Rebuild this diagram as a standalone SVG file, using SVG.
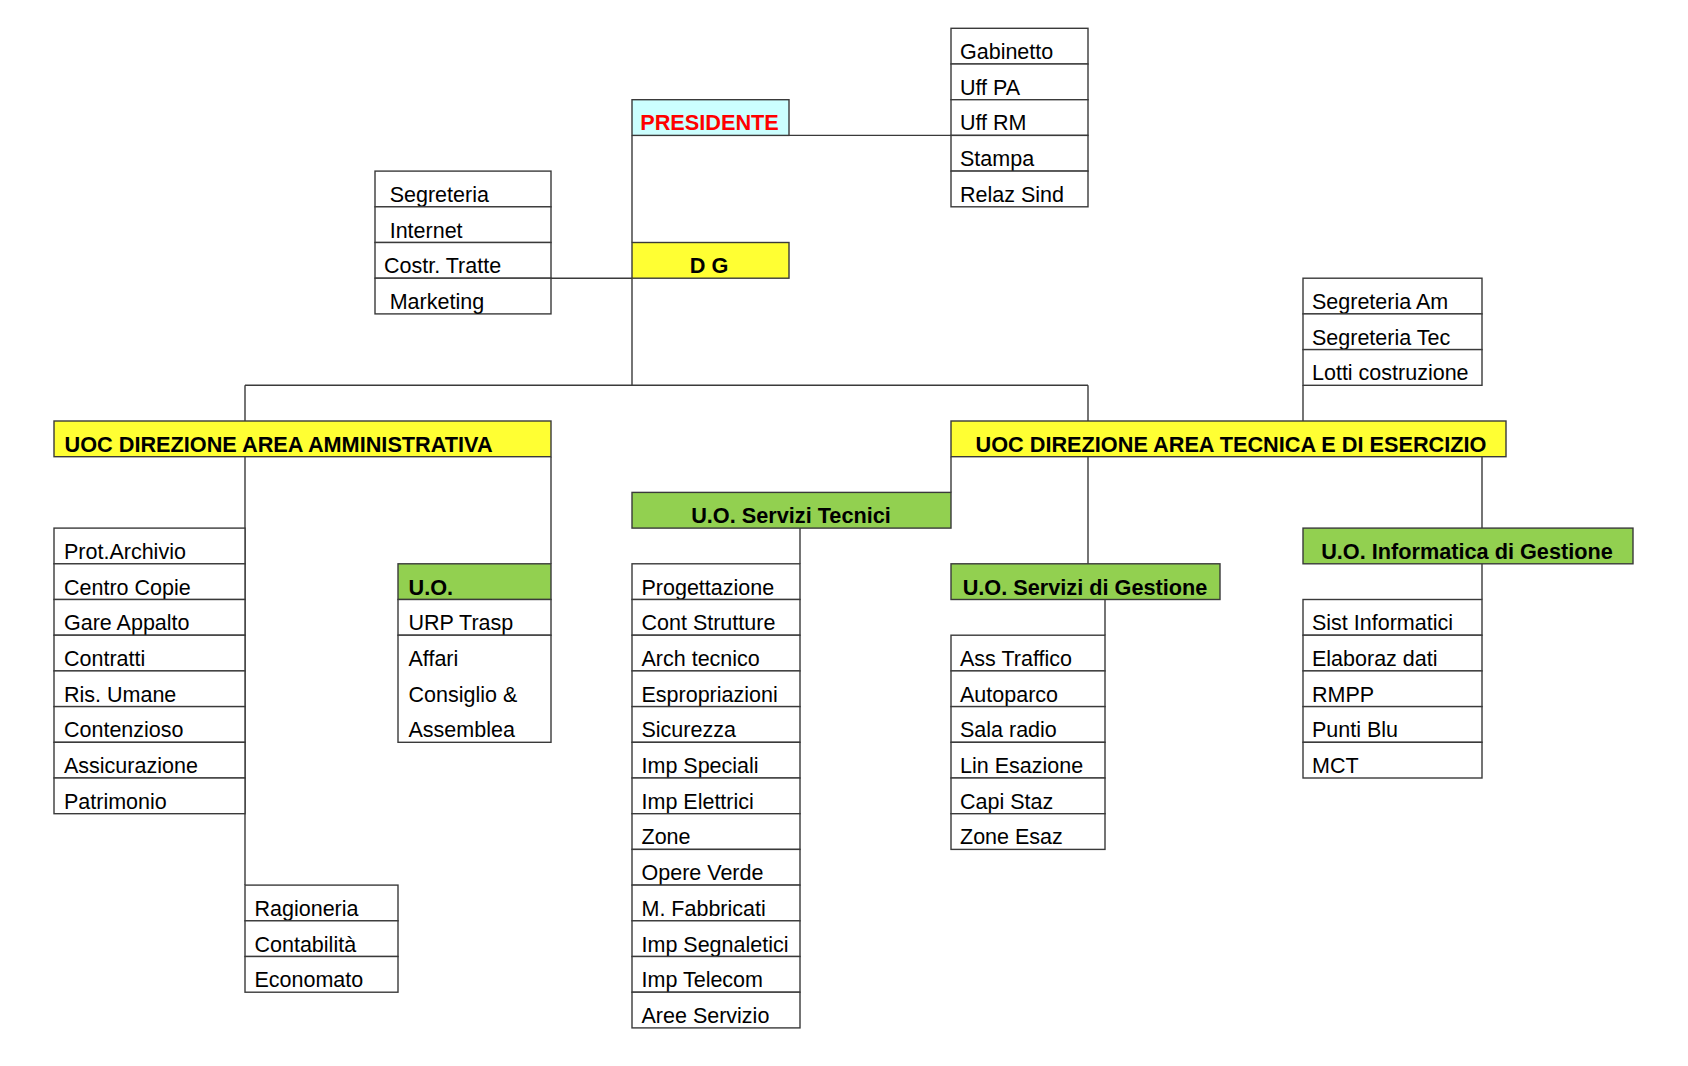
<svg xmlns="http://www.w3.org/2000/svg" width="1688" height="1066" viewBox="0 0 1688 1066">
<style>
rect{stroke:#3a3a3a;stroke-width:1.4}
.c{fill:#ffffff}
.y{fill:#ffff33}
.g{fill:#92d050}
.b{fill:#ccffff}
text{font-family:"Liberation Sans",Arial,sans-serif;font-size:21.5px;fill:#000}
.h{font-weight:bold;font-size:21.7px}
.m{text-anchor:middle}
.r{fill:#ff0000}
#connectors path{fill:none;stroke:#3a3a3a;stroke-width:1.4}
</style>
<rect x="0" y="0" width="1688" height="1066" fill="#ffffff" style="stroke:none"/>
<g id="connectors">
<path d="M789 135.4H951"/>
<path d="M632 135.4V242.5"/>
<path d="M632 278.2V385.3"/>
<path d="M551 278.2H632"/>
<path d="M245 385.3H1088"/>
<path d="M245 385.3V421"/>
<path d="M1088 385.3V421"/>
<path d="M1303 385.3V421"/>
<path d="M245 456.7V885.1"/>
<path d="M551 456.7V563.8"/>
<path d="M951 456.7V492.4"/>
<path d="M800 528.1V563.8"/>
<path d="M1088 456.7V563.8"/>
<path d="M1105 599.5V635.2"/>
<path d="M1482 456.7V528.1"/>
<path d="M1482 563.8V599.5"/>
</g>
<g id="presidente"><rect class="b" x="632" y="99.7" width="157" height="35.7"/><text class="h m r" x="709.5" y="130.4">PRESIDENTE</text></g>
<g id="dg"><rect class="y" x="632" y="242.5" width="157" height="35.7"/><text class="h m" x="709" y="273.2">D G</text></g>
<g id="gabinetto-stack">
<rect class="c" x="951" y="28.3" width="137" height="35.7"/><text x="960" y="59">Gabinetto</text>
<rect class="c" x="951" y="64" width="137" height="35.7"/><text x="960" y="94.7">Uff PA</text>
<rect class="c" x="951" y="99.7" width="137" height="35.7"/><text x="960" y="130.4">Uff RM</text>
<rect class="c" x="951" y="135.4" width="137" height="35.7"/><text x="960" y="166.1">Stampa</text>
<rect class="c" x="951" y="171.1" width="137" height="35.7"/><text x="960" y="201.8">Relaz Sind</text>
</g>
<g id="segreteria-stack">
<rect class="c" x="375" y="171.1" width="176" height="35.7"/><text x="389.7" y="201.8">Segreteria</text>
<rect class="c" x="375" y="206.8" width="176" height="35.7"/><text x="389.7" y="237.5">Internet</text>
<rect class="c" x="375" y="242.5" width="176" height="35.7"/><text x="384" y="273.2">Costr. Tratte</text>
<rect class="c" x="375" y="278.2" width="176" height="35.7"/><text x="389.7" y="308.9">Marketing</text>
</g>
<g id="uoc-amministrativa"><rect class="y" x="54" y="421" width="497" height="35.7"/><text class="h" x="64.5" y="451.7">UOC DIREZIONE AREA AMMINISTRATIVA</text></g>
<g id="uoc-tecnica"><rect class="y" x="951" y="421" width="555" height="35.7"/><text class="h m" x="1231" y="451.7">UOC DIREZIONE AREA TECNICA E DI ESERCIZIO</text></g>
<g id="segreteria-am-stack">
<rect class="c" x="1303" y="278.2" width="179" height="35.7"/><text x="1312" y="308.9">Segreteria Am</text>
<rect class="c" x="1303" y="313.9" width="179" height="35.7"/><text x="1312" y="344.6">Segreteria Tec</text>
<rect class="c" x="1303" y="349.6" width="179" height="35.7"/><text x="1312" y="380.3">Lotti costruzione</text>
</g>
<g id="prot-stack">
<rect class="c" x="54" y="528.1" width="191" height="35.7"/><text x="64" y="558.8">Prot.Archivio</text>
<rect class="c" x="54" y="563.8" width="191" height="35.7"/><text x="64" y="594.5">Centro Copie</text>
<rect class="c" x="54" y="599.5" width="191" height="35.7"/><text x="64" y="630.2">Gare Appalto</text>
<rect class="c" x="54" y="635.2" width="191" height="35.7"/><text x="64" y="665.9">Contratti</text>
<rect class="c" x="54" y="670.9" width="191" height="35.7"/><text x="64" y="701.6">Ris. Umane</text>
<rect class="c" x="54" y="706.6" width="191" height="35.7"/><text x="64" y="737.3">Contenzioso</text>
<rect class="c" x="54" y="742.3" width="191" height="35.7"/><text x="64" y="773">Assicurazione</text>
<rect class="c" x="54" y="778" width="191" height="35.7"/><text x="64" y="808.7">Patrimonio</text>
</g>
<g id="uo-stack">
<rect class="g" x="398" y="563.8" width="153" height="35.7"/><text class="h" x="408.5" y="594.5">U.O.</text>
<rect class="c" x="398" y="599.5" width="153" height="35.7"/><text x="408.5" y="630.2">URP Trasp</text>
<rect class="c" x="398" y="635.2" width="153" height="107.1"/>
<text x="408.5" y="665.9">Affari</text>
<text x="408.5" y="701.6">Consiglio &amp;</text>
<text x="408.5" y="737.3">Assemblea</text>
</g>
<g id="ragioneria-stack">
<rect class="c" x="245" y="885.1" width="153" height="35.7"/><text x="254.5" y="915.8">Ragioneria</text>
<rect class="c" x="245" y="920.8" width="153" height="35.7"/><text x="254.5" y="951.5">Contabilità</text>
<rect class="c" x="245" y="956.5" width="153" height="35.7"/><text x="254.5" y="987.2">Economato</text>
</g>
<g id="uo-servizi-tecnici"><rect class="g" x="632" y="492.4" width="319" height="35.7"/><text class="h m" x="791" y="523.1">U.O. Servizi Tecnici</text></g>
<g id="progettazione-stack">
<rect class="c" x="632" y="563.8" width="168" height="35.7"/><text x="641.5" y="594.5">Progettazione</text>
<rect class="c" x="632" y="599.5" width="168" height="35.7"/><text x="641.5" y="630.2">Cont Strutture</text>
<rect class="c" x="632" y="635.2" width="168" height="35.7"/><text x="641.5" y="665.9">Arch tecnico</text>
<rect class="c" x="632" y="670.9" width="168" height="35.7"/><text x="641.5" y="701.6">Espropriazioni</text>
<rect class="c" x="632" y="706.6" width="168" height="35.7"/><text x="641.5" y="737.3">Sicurezza</text>
<rect class="c" x="632" y="742.3" width="168" height="35.7"/><text x="641.5" y="773">Imp Speciali</text>
<rect class="c" x="632" y="778" width="168" height="35.7"/><text x="641.5" y="808.7">Imp Elettrici</text>
<rect class="c" x="632" y="813.7" width="168" height="35.7"/><text x="641.5" y="844.4">Zone</text>
<rect class="c" x="632" y="849.4" width="168" height="35.7"/><text x="641.5" y="880.1">Opere Verde</text>
<rect class="c" x="632" y="885.1" width="168" height="35.7"/><text x="641.5" y="915.8">M. Fabbricati</text>
<rect class="c" x="632" y="920.8" width="168" height="35.7"/><text x="641.5" y="951.5">Imp Segnaletici</text>
<rect class="c" x="632" y="956.5" width="168" height="35.7"/><text x="641.5" y="987.2">Imp Telecom</text>
<rect class="c" x="632" y="992.2" width="168" height="35.7"/><text x="641.5" y="1022.9">Aree Servizio</text>
</g>
<g id="uo-servizi-gestione"><rect class="g" x="951" y="563.8" width="269" height="35.7"/><text class="h m" x="1085" y="594.5">U.O. Servizi di Gestione</text></g>
<g id="traffico-stack">
<rect class="c" x="951" y="635.2" width="154" height="35.7"/><text x="960" y="665.9">Ass Traffico</text>
<rect class="c" x="951" y="670.9" width="154" height="35.7"/><text x="960" y="701.6">Autoparco</text>
<rect class="c" x="951" y="706.6" width="154" height="35.7"/><text x="960" y="737.3">Sala radio</text>
<rect class="c" x="951" y="742.3" width="154" height="35.7"/><text x="960" y="773">Lin Esazione</text>
<rect class="c" x="951" y="778" width="154" height="35.7"/><text x="960" y="808.7">Capi Staz</text>
<rect class="c" x="951" y="813.7" width="154" height="35.7"/><text x="960" y="844.4">Zone Esaz</text>
</g>
<g id="uo-informatica"><rect class="g" x="1303" y="528.1" width="330" height="35.7"/><text class="h m" x="1467" y="558.8">U.O. Informatica di Gestione</text></g>
<g id="informatica-stack">
<rect class="c" x="1303" y="599.5" width="179" height="35.7"/><text x="1312" y="630.2">Sist Informatici</text>
<rect class="c" x="1303" y="635.2" width="179" height="35.7"/><text x="1312" y="665.9">Elaboraz dati</text>
<rect class="c" x="1303" y="670.9" width="179" height="35.7"/><text x="1312" y="701.6">RMPP</text>
<rect class="c" x="1303" y="706.6" width="179" height="35.7"/><text x="1312" y="737.3">Punti Blu</text>
<rect class="c" x="1303" y="742.3" width="179" height="35.7"/><text x="1312" y="773">MCT</text>
</g>
</svg>
